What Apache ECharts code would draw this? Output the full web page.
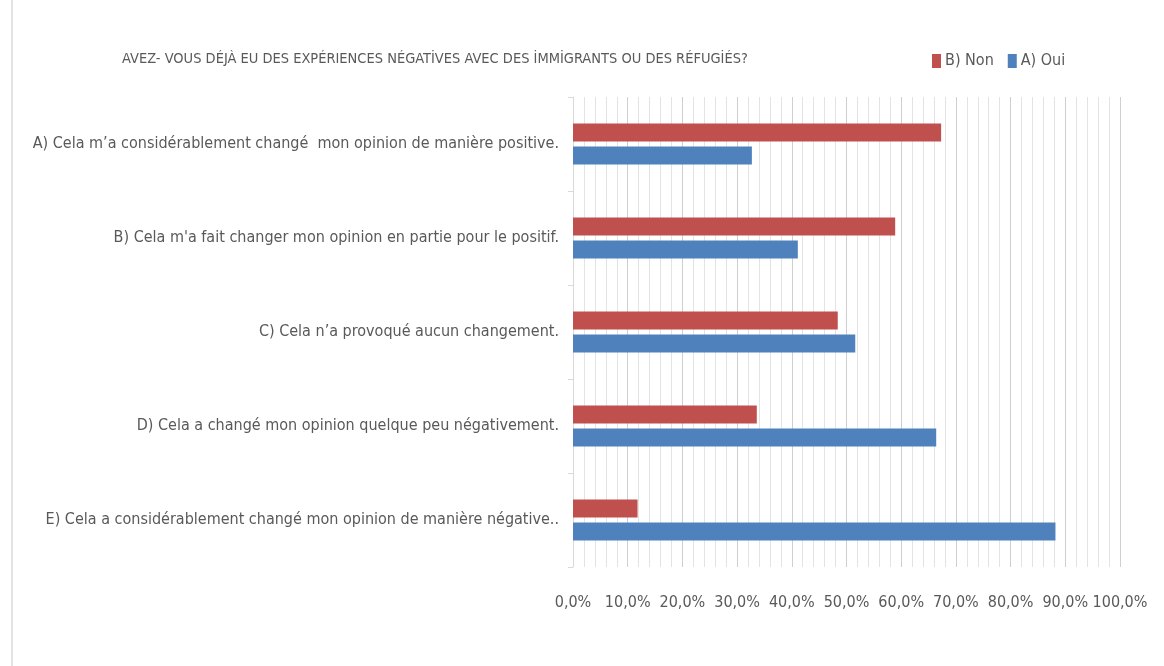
<!DOCTYPE html>
<html>
<head>
<meta charset="utf-8">
<script src="https://cdn.jsdelivr.net/npm/echarts@6/dist/echarts.min.js"></script>
<style>
    html, body { margin: 0; padding: 0; background: #fff; }
    #chart { width: 1164px; height: 666px; }
    #edge { position: absolute; left: 11px; top: 0; width: 2px; height: 666px; background: #e3e3e3; }
</style>
</head>
<body>
<div id="edge"></div>
<div id="chart"></div>
<script>
const categories = [
    'A) Cela m’a considérablement changé  mon opinion de manière positive.',
    "B) Cela m'a fait changer mon opinion en partie pour le positif.",
    'C) Cela n’a provoqué aucun changement.',
    'D) Cela a changé mon opinion quelque peu négativement.',
    'E) Cela a considérablement changé mon opinion de manière négative..'
];
const nonValues = [67.3, 58.9, 48.4, 33.6, 11.8];
const ouiValues = [32.7, 41.1, 51.6, 66.4, 88.2];
const seriesNames = ['B) Non', 'A) Oui'];
const title = 'AVEZ- VOUS DÉJÀ EU DES EXPÉRIENCES NÉGATİVES AVEC DES İMMİGRANTS OU DES RÉFUGİÉS?';

const font = '"Liberation Sans Narrow", "DejaVu Sans Condensed", sans-serif';
const textColor = '#595959';

let chart = echarts.init(document.getElementById('chart'));
chart.setOption({
    animation: false,
    title: {
        text: title,
        left: 117,
        top: 47,
        textStyle: { fontFamily: font, fontSize: 14.5, fontWeight: 'normal', color: textColor }
    },
    legend: {
        data: seriesNames,
        left: 927,
        top: 48,
        itemWidth: 9,
        itemHeight: 14,
        itemGap: 14,
        icon: 'rect',
        textStyle: { fontFamily: font, fontSize: 16, color: textColor, padding: [0, 0, 0, -1] }
    },
    grid: { left: 573, right: 44, top: 97, bottom: 99, containLabel: false },
    xAxis: {
        type: 'value',
        min: 0,
        max: 100,
        interval: 10,
        axisLine: { show: false },
        axisTick: { show: false },
        axisLabel: {
            margin: 28,
            fontFamily: font,
            fontSize: 16,
            color: textColor,
            formatter: v => v.toFixed(1).replace('.', ',') + '%'
        },
        splitLine: { show: true, lineStyle: { color: '#cfcfcf', width: 1 } },
        minorTick: { show: false, splitNumber: 5 },
        minorSplitLine: { show: true, lineStyle: { color: '#e3e3e3', width: 1 } }
    },
    yAxis: {
        type: 'category',
        data: categories,
        inverse: true,
        axisLine: { show: true, lineStyle: { color: '#d9d9d9' } },
        axisTick: { show: true, length: 5, lineStyle: { color: '#d9d9d9' } },
        axisLabel: { margin: 14, fontFamily: font, fontSize: 16, color: textColor }
    },
    series: [
        {
            name: seriesNames[0],
            type: 'bar',
            data: nonValues,
            barWidth: 18,
            barGap: '28%',
            itemStyle: { color: '#C0504D' }
        },
        {
            name: seriesNames[1],
            type: 'bar',
            data: ouiValues,
            barWidth: 18,
            barGap: '28%',
            itemStyle: { color: '#4F81BD' }
        }
    ]
});
</script>
</body>
</html>
